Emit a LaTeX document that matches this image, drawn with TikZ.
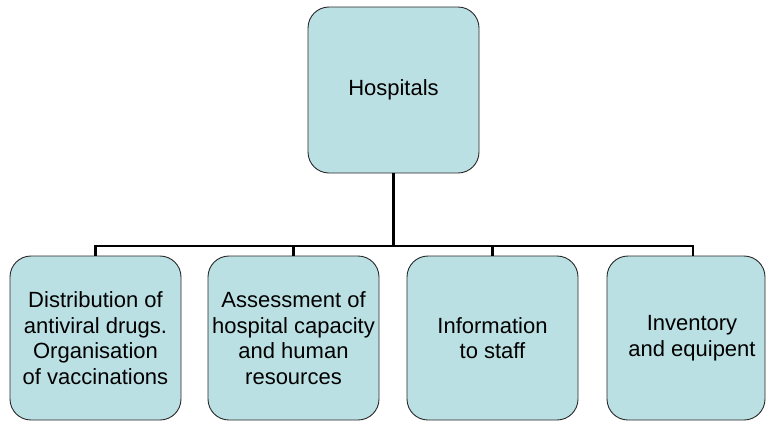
\documentclass[tikz,border=0pt]{standalone}
\usepackage{fontspec}
\setmainfont{Liberation Sans}
\definecolor{boxfill}{RGB}{187,224,227}
\definecolor{boxline}{RGB}{40,40,40}
\begin{document}
\begin{tikzpicture}[x=1pt,y=-1pt,
  orgbox/.style={draw=boxline,line width=0.9pt,fill=boxfill,rounded corners=21pt,
    minimum width=171pt,minimum height=164pt,inner sep=0pt,align=center,
    font=\fontsize{22}{25.7}\selectfont},
  link/.style={line width=2.6pt}]
\useasboundingbox (0,0) rectangle (766,421);
\coordinate (bus) at (393.5,246);
\node[orgbox,minimum height=166pt] (top) at (393.5,90) {Hospitals};
\node[orgbox] (b1) at (95.5,338) {Distribution of\\antiviral drugs.\\Organisation\\of vaccinations};
\node[orgbox] (b2) at (293.5,338) {Assessment of\\hospital capacity\\and human\\resources};
\node[orgbox] (b3) at (492.5,338) {Information\\to staff};
\node[orgbox,minimum width=158pt] (b4) at (686,338) {\hspace*{12pt}Inventory\\\hspace*{12pt}and equipent};
\begin{scope}[on background layer/.try]
\draw[line width=3pt] (top.south) -- (bus);
\draw[link] (b1.north) |- (bus);
\draw[link] (b2.north) |- (bus);
\draw[link] (b3.north) |- (bus);
\draw[link] ([xshift=7pt]b4.north) |- (bus);
\end{scope}
\end{tikzpicture}
\end{document}
